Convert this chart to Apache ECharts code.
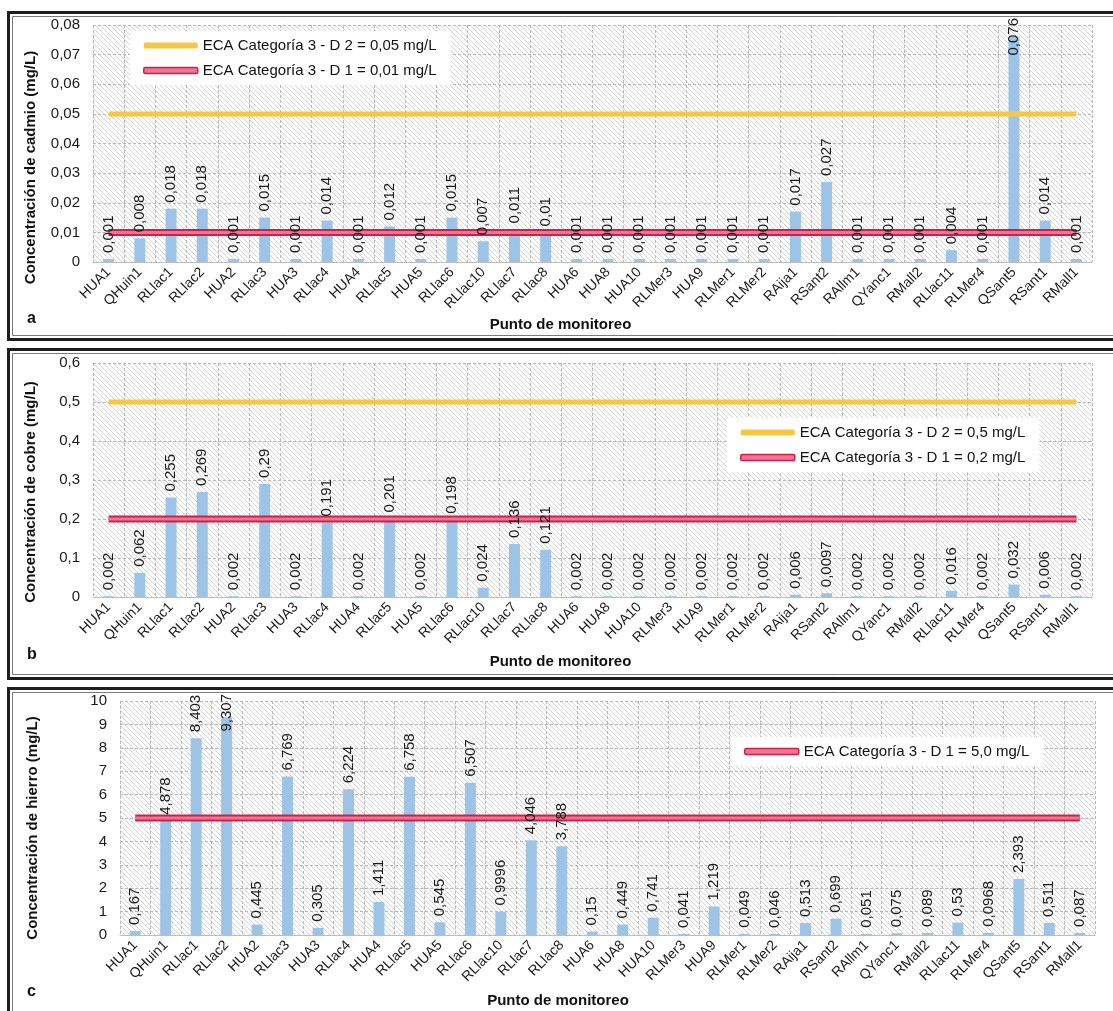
<!DOCTYPE html>
<html>
<head>
<meta charset="utf-8">
<style>
html,body{margin:0;padding:0;background:#fff;}
#c{width:1113px;height:1011px;}
</style>
<script src="https://cdn.jsdelivr.net/npm/echarts@6/dist/echarts.min.js"></script>
</head>
<body>
<div id="c"></div>
<script>
// ---------- data ----------
var categories = ['HUA1','QHuin1','RLlac1','RLlac2','HUA2','RLlac3','HUA3','RLlac4','HUA4','RLlac5','HUA5','RLlac6','RLlac10','RLlac7','RLlac8','HUA6','HUA8','HUA10','RLMer3','HUA9','RLMer1','RLMer2','RAija1','RSant2','RAllm1','QYanc1','RMall2','RLlac11','RLMer4','QSant5','RSant1','RMall1'];
var cadmio = [0.001,0.008,0.018,0.018,0.001,0.015,0.001,0.014,0.001,0.012,0.001,0.015,0.007,0.011,0.01,0.001,0.001,0.001,0.001,0.001,0.001,0.001,0.017,0.027,0.001,0.001,0.001,0.004,0.001,0.076,0.014,0.001];
var cobre = [0.002,0.062,0.255,0.269,0.002,0.29,0.002,0.191,0.002,0.201,0.002,0.198,0.024,0.136,0.121,0.002,0.002,0.002,0.002,0.002,0.002,0.002,0.006,0.0097,0.002,0.002,0.002,0.016,0.002,0.032,0.006,0.002];
var hierro = [0.167,4.878,8.403,9.307,0.445,6.769,0.305,6.224,1.411,6.758,0.545,6.507,0.9996,4.046,3.788,0.15,0.449,0.741,0.041,1.219,0.049,0.046,0.513,0.699,0.051,0.075,0.089,0.53,0.0968,2.393,0.511,0.087];
var limitsCadmio = [0.05, 0.01];
var limitsCobre = [0.5, 0.2];
var limitsHierro = [5.0];
var namesCadmio = ['ECA Categoría 3 - D 2 = 0,05 mg/L','ECA Categoría 3 - D 1 = 0,01 mg/L'];
var namesCobre = ['ECA Categoría 3 - D 2 = 0,5 mg/L','ECA Categoría 3 - D 1 = 0,2 mg/L'];
var namesHierro = ['ECA Categoría 3 - D 1 = 5,0 mg/L'];
var yNames = ['Concentración de cadmio (mg/L)','Concentración de cobre (mg/L)','Concentración de hierro (mg/L)'];
var xName = 'Punto de monitoreo';
var panelLetters = ['a','b','c'];

// ---------- styling ----------
var FONT = "'Liberation Sans', Arial, Helvetica, sans-serif";
var BAR = '#9dc3e6';
var YELLOW = '#f6c744';
var RED_OUT = '#c7234c';
var RED_IN = '#f07592';

function hatch(){
  var s = 5, cv = document.createElement('canvas');
  cv.width = s; cv.height = s;
  var g = cv.getContext('2d');
  g.fillStyle = '#ffffff'; g.fillRect(0,0,s,s);
  g.strokeStyle = '#cfcfcf'; g.lineWidth = 0.9;
  g.beginPath();
  g.moveTo(-1,-1); g.lineTo(s+1,s+1);
  g.moveTo(-1,s-1); g.lineTo(1,s+1);
  g.moveTo(s-1,-1); g.lineTo(s+1,1);
  g.stroke();
  return {image: cv, repeat: 'repeat'};
}
var pattern = hatch();

function fmt(v){ return String(v).replace('.', ','); }
function constLine(v){ return categories.map(function(){ return v; }); }

var grids = [
  {left: 93, right: 21, top: 25, height: 237},
  {left: 93, right: 21, top: 363, height: 234},
  {left: 120, right: 18, top: 701, height: 234}
];
grids.forEach(function(g){ g.show = true; g.backgroundColor = pattern; g.borderWidth = 0; });

var yCfg = [
  {max: 0.08, interval: 0.01, dec: 2, gap: 55, pad: 48},
  {max: 0.6, interval: 0.1, dec: 1, gap: 55, pad: 24},
  {max: 10, interval: 1, dec: 0, gap: 80, pad: 20}
];
var xCfg = [{gap: 55, pad: 64},{gap: 57, pad: 64},{gap: 58, pad: 99}];

var xAxes = [], yAxes = [];
for (var i = 0; i < 3; i++) {
  xAxes.push({
    type: 'category', gridIndex: i, data: categories,
    name: xName, nameLocation: 'middle', nameGap: xCfg[i].gap,
    nameTextStyle: {fontFamily: FONT, fontSize: 15, fontWeight: 'bold', color: '#111', padding: [0, xCfg[i].pad, 0, 0]},
    axisLine: {show: true, lineStyle: {color: '#bdbdbd'}},
    axisTick: {show: false},
    axisLabel: {interval: 0, rotate: 45, fontFamily: FONT, fontSize: 14, color: '#1a1a1a', margin: 8},
    splitLine: {show: true, interval: 0, lineStyle: {color: '#b8b8b8', type: [3,2], width: 1}}
  });
  (function(c){
    yAxes.push({
      type: 'value', gridIndex: i, min: 0, max: c.max, interval: c.interval,
      name: yNames[i], nameLocation: 'middle', nameRotate: 90, nameGap: c.gap,
      nameTextStyle: {fontFamily: FONT, fontSize: 15, fontWeight: 'bold', color: '#111', padding: [0, c.pad, 0, 0]},
      axisLine: {show: false}, axisTick: {show: false},
      axisLabel: {fontFamily: FONT, fontSize: 15, color: '#1a1a1a', margin: 13,
        formatter: function(v){ return v === 0 ? '0' : v.toFixed(c.dec).replace('.', ','); }},
      splitLine: {show: true, lineStyle: {color: '#b8b8b8', type: [3,2], width: 1}}
    });
  })(yCfg[i]);
}

var series = [];
function addPanel(idx, values, limits, names){
  var gridTop = grids[idx].top;
  series.push({
    type: 'bar', xAxisIndex: idx, yAxisIndex: idx, data: values,
    barWidth: 11, itemStyle: {color: BAR}, z: 2, silent: true
  });
  limits.forEach(function(lim, k){
    var nm = names[k];
    var isYellow = names.length === 2 && k === 0;
    if (isYellow) {
      series.push({type: 'line', name: nm, xAxisIndex: idx, yAxisIndex: idx, data: constLine(lim),
        symbol: 'none', lineStyle: {color: YELLOW, width: 5}, itemStyle: {color: YELLOW}, z: 3, silent: true});
    } else {
      series.push({type: 'line', name: nm + ' ', xAxisIndex: idx, yAxisIndex: idx, data: constLine(lim),
        symbol: 'none', lineStyle: {color: RED_OUT, width: 7}, itemStyle: {color: RED_OUT}, z: 3, silent: true});
      series.push({type: 'line', name: nm, xAxisIndex: idx, yAxisIndex: idx, data: constLine(lim),
        symbol: 'none', lineStyle: {color: RED_IN, width: 3}, itemStyle: {color: RED_IN}, z: 3, silent: true});
    }
  });
  // label layer (transparent bars drawn on top)
  series.push({
    type: 'bar', xAxisIndex: idx, yAxisIndex: idx, data: values,
    barWidth: 11, barGap: '-100%', itemStyle: {color: 'rgba(0,0,0,0)'}, z: 5, silent: true,
    label: {show: true, position: 'top', rotate: 90, align: 'left', verticalAlign: 'middle', distance: 6,
      fontFamily: FONT, fontSize: 15, color: '#1a1a1a', formatter: function(p){ return fmt(p.value); }},
    labelLayout: function(p){
      var limit = gridTop - 7;
      if (p.labelRect.y < limit) { return {dx: -(limit - p.labelRect.y)}; }
      return {};
    }
  });
}
addPanel(0, cadmio, limitsCadmio, namesCadmio);
addPanel(1, cobre, limitsCobre, namesCobre);
addPanel(2, hierro, limitsHierro, namesHierro);

function legendData(names){
  return names.map(function(n, k){
    var yellow = names.length === 2 && k === 0;
    return {name: n, icon: 'roundRect',
      itemStyle: yellow ? {color: YELLOW, borderWidth: 0} : {color: RED_IN, borderColor: RED_OUT, borderWidth: 1.5}};
  });
}
var legendBase = {
  orient: 'vertical', itemWidth: 54, itemHeight: 6, itemGap: 10, selectedMode: false,
  backgroundColor: '#ffffff', padding: [7, 14, 7, 13],
  textStyle: {fontFamily: FONT, fontSize: 15, color: '#111'}
};
var legends = [
  Object.assign({}, legendBase, {left: 130, top: 31, data: legendData(namesCadmio)}),
  Object.assign({}, legendBase, {left: 727, top: 418, data: legendData(namesCobre)}),
  Object.assign({}, legendBase, {left: 731, top: 737, data: legendData(namesHierro)})
];

var frames = [
  {y: 10, h: 327}, {y: 347, h: 329}, {y: 686, h: 340}
];
var letterY = [320, 656, 993];
var graphics = [];
frames.forEach(function(f, i){
  graphics.push({type: 'rect', left: 6, top: f.y, z: -10, silent: true,
    shape: {width: 1120, height: f.h}, style: {fill: 'none', stroke: '#1e1e1e', lineWidth: 3}});
  graphics.push({type: 'rect', left: 10, top: f.y + 4, z: -10, silent: true,
    shape: {width: 1120, height: f.h - 8}, style: {fill: 'none', stroke: '#7a7a7a', lineWidth: 1}});
  graphics.push({type: 'text', left: 27, top: letterY[i] - 9, silent: true,
    style: {text: panelLetters[i], fontFamily: FONT, fontSize: 16, fontWeight: 'bold', fill: '#111'}});
});

var chart = echarts.init(document.getElementById('c'), null, {renderer: 'canvas'});
chart.setOption({
  backgroundColor: '#ffffff',
  animation: false,
  grid: grids,
  xAxis: xAxes,
  yAxis: yAxes,
  legend: legends,
  series: series,
  graphic: graphics
});
</script>
</body>
</html>
